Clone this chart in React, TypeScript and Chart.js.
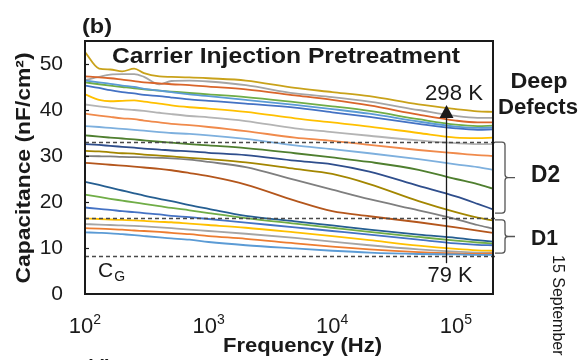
import { useEffect, useRef } from 'react';
import { Chart, registerables } from 'chart.js';

Chart.register(...registerables);

// Frequencies (Hz)
const freqs = [100, 130, 160, 200, 250, 300, 400, 500, 700, 1000, 2000, 5000, 10000, 20000, 50000, 100000, 150000, 200000];

// Capacitance curves (nF/cm^2), from 79 K (bottom) to 298 K (top)
const s01 = [13.4, 13.3, 13.2, 13.0, 12.8, 12.6, 12.3, 12.1, 11.8, 11.3, 10.6, 9.9, 9.4, 9.0, 8.7, 8.6, 8.5, 8.5];
const s02 = [14.3, 14.2, 14.1, 14.0, 13.8, 13.7, 13.5, 13.3, 13.0, 12.6, 12.0, 11.0, 10.3, 9.7, 9.1, 8.8, 8.7, 8.8];
const s03 = [15.2, 15.1, 15.0, 14.9, 14.8, 14.7, 14.5, 14.3, 14.0, 13.7, 13.1, 12.2, 11.4, 10.6, 9.7, 9.2, 9.0, 9.0];
const s04 = [16.4, 16.3, 16.2, 16.1, 16.0, 15.9, 15.7, 15.6, 15.3, 15.0, 14.4, 13.4, 12.6, 11.7, 10.5, 9.8, 9.5, 9.4];
const s05 = [18.8, 18.5, 18.3, 18.0, 17.8, 17.6, 17.3, 17.0, 16.7, 16.3, 15.5, 14.5, 13.7, 12.9, 11.8, 11.0, 10.7, 10.6];
const s06 = [21.6, 21.1, 20.7, 20.3, 19.9, 19.6, 19.1, 18.7, 18.2, 17.6, 16.5, 15.3, 14.4, 13.5, 12.4, 11.6, 11.2, 11.0];
const s07 = [24.4, 23.7, 23.1, 22.5, 21.9, 21.4, 20.7, 20.2, 19.3, 18.5, 17.0, 15.8, 14.9, 14.0, 12.9, 12.2, 11.7, 11.4];
const s08 = [28.5, 28.3, 28.1, 27.9, 27.7, 27.5, 27.2, 26.9, 26.3, 25.6, 23.8, 20.3, 18.0, 16.9, 15.6, 14.5, 13.8, 13.3];
const s09 = [30.0, 29.95, 29.9, 29.8, 29.75, 29.7, 29.6, 29.5, 29.2, 28.7, 27.6, 24.8, 22.7, 20.6, 18.2, 16.3, 15.0, 14.2];
const s10 = [31.1, 31.0, 30.8, 30.6, 30.5, 30.3, 30.1, 29.9, 29.6, 29.3, 28.6, 27.2, 26.1, 23.9, 20.2, 17.8, 16.6, 16.0];
const s11 = [32.6, 32.4, 32.2, 32.0, 31.8, 31.6, 31.4, 31.2, 31.0, 30.7, 30.2, 29.0, 28.2, 26.6, 23.5, 21.2, 19.6, 18.4];
const s12 = [34.5, 34.2, 34.0, 33.8, 33.6, 33.4, 33.1, 32.9, 32.6, 32.3, 31.7, 30.6, 29.7, 28.7, 27.0, 25.0, 23.9, 22.9];
const s13 = [36.5, 36.3, 36.1, 35.9, 35.7, 35.5, 35.2, 35.0, 34.8, 34.5, 33.7, 32.3, 31.5, 30.6, 29.3, 28.2, 27.6, 27.0];
const s14 = [39.2, 38.8, 38.5, 38.2, 38.0, 37.7, 37.3, 37.0, 36.7, 36.3, 35.4, 34.0, 33.3, 32.4, 31.3, 30.6, 30.2, 30.0];
const s15 = [41.2, 40.8, 40.5, 40.2, 40.0, 39.8, 39.4, 39.1, 38.7, 38.4, 37.6, 36.0, 35.2, 34.4, 33.4, 32.8, 32.6, 32.6];
const s16 = [43.4, 42.2, 41.9, 42.0, 42.1, 41.8, 41.4, 41.0, 40.6, 40.3, 39.6, 38.2, 37.3, 36.4, 35.0, 34.0, 33.9, 34.0];
const s17 = [45.3, 44.8, 44.3, 43.9, 43.6, 43.3, 43.0, 42.7, 42.3, 42.0, 41.4, 40.5, 39.5, 38.5, 37.0, 36.0, 35.7, 35.8];
const s18 = [46.4, 46.0, 45.7, 45.3, 45.0, 44.6, 44.2, 43.9, 43.4, 43.0, 42.2, 41.1, 40.2, 39.2, 37.5, 36.4, 36.1, 36.2];
const s19 = [46.0, 45.6, 45.3, 45.0, 44.7, 44.5, 44.2, 44.0, 43.7, 43.4, 42.8, 41.7, 40.8, 39.8, 38.0, 36.8, 36.5, 36.6];
const s20 = [47.3, 47.1, 46.9, 46.6, 46.3, 46.0, 45.8, 45.6, 45.4, 45.1, 44.5, 43.2, 42.2, 41.0, 39.0, 37.7, 37.3, 37.3];
const s21 = [46.5, 47.2, 47.7, 47.8, 47.8, 47.2, 45.6, 46.3, 46.4, 46.2, 45.4, 43.6, 42.8, 41.8, 40.0, 38.7, 38.3, 38.3];
const s22 = [52.6, 49.0, 48.8, 48.4, 49.0, 48.0, 47.3, 47.2, 47.1, 46.9, 46.4, 44.8, 43.9, 43.0, 41.2, 40.2, 39.7, 39.6];

const seriesList = [s01, s02, s03, s04, s05, s06, s07, s08, s09, s10, s11, s12, s13, s14, s15, s16, s17, s18, s19, s20, s21, s22];
const seriesColors = [
  '#5B9BD5', '#ED7D31', '#A5A5A5', '#FFC000', '#4472C4', '#70AD47', '#255E91', '#B4561C',
  '#7F7F7F', '#A38600', '#2F4E8C', '#4F7F2F', '#7EB0DE', '#F08A4B', '#B4B4B4', '#FFC000',
  '#4472C4', '#5B9BD5', '#70AD47', '#D9652B', '#A5A5A5', '#C9A21A',
];

// Axes
const xMin = 100;
const xMax = 200000;
const yMin = 0;
const yMax = 55;
const yTicks = [0, 10, 20, 30, 40, 50];
const xTickValues = [100, 1000, 10000, 100000];
const xTickExponents = ['2', '3', '4', '5'];

// Reference levels and annotations (data units)
const dashLevels = [33.0, 16.5, 8.3];
const bracketD2 = [33.0, 17.6];
const bracketD1 = [16.1, 8.9];
const arrowFreq = 83000;
const arrowFrom = 6.7;
const arrowTo = 41.1;

const FONT = "'Liberation Sans', Arial, Helvetica, sans-serif";
const INK = '#1a1a1a';

function drawText(
  ctx: CanvasRenderingContext2D,
  text: string,
  x: number,
  y: number,
  font: string,
  align: CanvasTextAlign,
  width?: number,
  angle?: number,
) {
  ctx.save();
  ctx.font = font;
  ctx.fillStyle = INK;
  const w = ctx.measureText(text).width;
  const sx = width ? width / w : 1;
  ctx.translate(x, y);
  if (angle) ctx.rotate(angle);
  ctx.scale(sx, 1);
  ctx.textAlign = align;
  ctx.textBaseline = 'alphabetic';
  ctx.fillText(text, 0, 0);
  ctx.restore();
}

function drawBrace(ctx: CanvasRenderingContext2D, x0: number, xv: number, xTip: number, yTop: number, yBot: number) {
  const ym = (yTop + yBot) / 2;
  const r = 3;
  ctx.beginPath();
  ctx.moveTo(x0, yTop);
  ctx.lineTo(xv - r, yTop);
  ctx.quadraticCurveTo(xv, yTop, xv, yTop + r);
  ctx.lineTo(xv, ym - r);
  ctx.quadraticCurveTo(xv, ym, xv + r, ym);
  ctx.lineTo(xTip, ym);
  ctx.moveTo(xv + r, ym);
  ctx.quadraticCurveTo(xv, ym, xv, ym + r);
  ctx.lineTo(xv, yBot - r);
  ctx.quadraticCurveTo(xv, yBot, xv - r, yBot);
  ctx.lineTo(x0, yBot);
  ctx.stroke();
}

const decorPlugin = {
  id: 'decor',
  afterDatasetsDraw(chart: any) {
    const ctx: CanvasRenderingContext2D = chart.ctx;
    const area = chart.chartArea;
    const xs = chart.scales.x;
    const ys = chart.scales.y;
    ctx.save();

    // dashed reference lines
    ctx.strokeStyle = '#4a4a4a';
    ctx.lineWidth = 1.4;
    ctx.setLineDash([4, 3]);
    dashLevels.forEach((lv) => {
      const y = Math.round(ys.getPixelForValue(lv)) + 0.5;
      ctx.beginPath();
      ctx.moveTo(area.left, y);
      ctx.lineTo(area.right + 2, y);
      ctx.stroke();
    });
    ctx.setLineDash([]);

    // frame
    ctx.strokeStyle = INK;
    ctx.lineWidth = 2;
    ctx.strokeRect(area.left, area.top, area.right - area.left, area.bottom - area.top);

    // y tick marks (inward)
    ctx.lineWidth = 1.2;
    yTicks.forEach((t) => {
      if (t === yMin) return;
      const y = Math.round(ys.getPixelForValue(t)) + 0.5;
      ctx.beginPath();
      ctx.moveTo(area.left, y);
      ctx.lineTo(area.left + 4, y);
      ctx.stroke();
    });

    // x tick labels 10^n
    xTickValues.forEach((v, i) => {
      const px = xs.getPixelForValue(v);
      ctx.font = `22px ${FONT}`;
      const wBase = ctx.measureText('10').width;
      ctx.font = `14px ${FONT}`;
      const wExp = ctx.measureText(xTickExponents[i]).width;
      const start = px - (wBase + wExp) / 2;
      drawText(ctx, '10', start, 333, `22px ${FONT}`, 'left');
      drawText(ctx, xTickExponents[i], start + wBase, 324, `14px ${FONT}`, 'left');
    });

    // axis titles
    drawText(ctx, 'Frequency (Hz)', 302.5, 352, `bold 20px ${FONT}`, 'center', 159);
    drawText(ctx, 'Capacitance (nF/cm²)', 30, 168, `bold 20px ${FONT}`, 'center', 231, -Math.PI / 2);

    // panel label & title
    drawText(ctx, '(b)', 82, 33, `bold 20px ${FONT}`, 'left', 30);
    drawText(ctx, 'Carrier Injection Pretreatment', 286, 63, `bold 22px ${FONT}`, 'center', 348);

    // arrow 79 K -> 298 K
    const ax = Math.round(xs.getPixelForValue(arrowFreq)) + 0.5;
    const yb = ys.getPixelForValue(arrowFrom);
    const yt = ys.getPixelForValue(arrowTo);
    ctx.strokeStyle = INK;
    ctx.fillStyle = INK;
    ctx.lineWidth = 1.3;
    ctx.beginPath();
    ctx.moveTo(ax, yb);
    ctx.lineTo(ax, yt + 10);
    ctx.stroke();
    ctx.beginPath();
    ctx.moveTo(ax, yt);
    ctx.lineTo(ax - 7, yt + 13);
    ctx.lineTo(ax + 7, yt + 13);
    ctx.closePath();
    ctx.fill();
    drawText(ctx, '298 K', 454, 100, `22px ${FONT}`, 'center', 58);
    drawText(ctx, '79 K', 450, 282, `22px ${FONT}`, 'center', 45);

    // C_G
    ctx.font = `21px ${FONT}`;
    const wC = ctx.measureText('C').width;
    drawText(ctx, 'C', 98, 277, `21px ${FONT}`, 'left');
    drawText(ctx, 'G', 98 + wC + 1, 281, `14px ${FONT}`, 'left');

    // right side labels
    drawText(ctx, 'Deep', 539, 88, `bold 22px ${FONT}`, 'center', 57);
    drawText(ctx, 'Defects', 538, 114, `bold 22px ${FONT}`, 'center', 80);

    ctx.strokeStyle = '#555';
    ctx.lineWidth = 1.3;
    drawBrace(ctx, area.right + 2, area.right + 12, area.right + 22, ys.getPixelForValue(bracketD2[0]), ys.getPixelForValue(bracketD2[1]));
    drawBrace(ctx, area.right + 2, area.right + 12, area.right + 22, ys.getPixelForValue(bracketD1[0]), ys.getPixelForValue(bracketD1[1]));
    drawText(ctx, 'D2', 531, 182, `bold 23px ${FONT}`, 'left', 29);
    drawText(ctx, 'D1', 531, 245, `bold 22px ${FONT}`, 'left', 27);

    // side stamp and cut-off next panel label
    drawText(ctx, '15 September', 553, 255, `16px ${FONT}`, 'left', undefined, Math.PI / 2);
    drawText(ctx, '(d)', 86, 374, `bold 20px ${FONT}`, 'left');

    ctx.restore();
  },
};

export default function App() {
  const canvasRef = useRef<HTMLCanvasElement | null>(null);

  useEffect(() => {
    const canvas = canvasRef.current;
    if (!canvas) return;
    const datasets = seriesList.map((s, i) => ({
      data: freqs.map((f, j) => ({ x: f, y: s[j] })),
      borderColor: seriesColors[i],
      backgroundColor: seriesColors[i],
      borderWidth: 1.8,
      pointRadius: 0,
      fill: false,
      cubicInterpolationMode: 'monotone' as const,
    }));
    const chart = new Chart(canvas, {
      type: 'line',
      data: { datasets },
      options: {
        animation: false,
        responsive: false,
        devicePixelRatio: 1,
        layout: { padding: { left: 0, top: 41, right: 90, bottom: 66 } },
        plugins: { legend: { display: false }, tooltip: { enabled: false } },
        scales: {
          x: {
            type: 'logarithmic',
            min: xMin,
            max: xMax,
            display: false,
          },
          y: {
            type: 'linear',
            min: yMin,
            max: yMax,
            grid: { display: false, drawTicks: false },
            border: { display: false },
            afterBuildTicks: (scale: any) => {
              scale.ticks = yTicks.map((v) => ({ value: v }));
            },
            afterFit: (scale: any) => {
              scale.width = 85;
            },
            ticks: {
              padding: 22,
              color: INK,
              font: { family: FONT, size: 21 },
              callback: (v: any) => String(v),
            },
          },
        },
      },
      plugins: [decorPlugin],
    });
    return () => chart.destroy();
  }, []);

  return (
    <div style={{ position: 'absolute', left: 0, top: 0, width: 583, height: 360, background: '#fff' }}>
      <canvas ref={canvasRef} width={583} height={360} style={{ width: 583, height: 360, display: 'block' }} />
    </div>
  );
}
